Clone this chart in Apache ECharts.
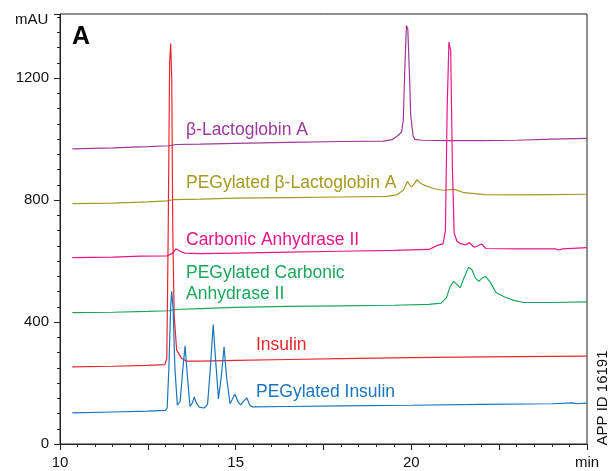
<!DOCTYPE html>
<html>
<head>
<meta charset="utf-8">
<script src="https://cdn.jsdelivr.net/npm/echarts@6/dist/echarts.min.js"></script>
<style>
  html, body { margin: 0; padding: 0; background: #fff; }
  #chart { width: 612px; height: 471px; }
</style>
</head>
<body>
<div id="chart"></div>
<script>
  // retention time (min), absorbance (mAU)
  const lactoglobin = [
    [10.35, 968], [11.5, 971], [12.5, 975], [13.1, 978], [13.3, 982], [14.0, 983],
    [15.0, 986], [16.5, 989], [18.0, 992], [19.2, 993], [19.45, 998], [19.6, 1010],
    [19.72, 1022], [19.77, 1060], [19.82, 1250], [19.86, 1372], [19.9, 1360],
    [19.95, 1200], [19.98, 1080], [20.05, 1010], [20.1, 999], [20.3, 996],
    [21.0, 995], [22.0, 995], [23.0, 996], [24.0, 1000], [25.0, 1002]
  ];
  const pegLactoglobin = [
    [10.35, 788], [11.5, 790], [12.5, 794], [13.05, 797], [13.2, 801], [14.0, 803],
    [15.0, 806], [16.5, 808], [18.0, 810], [19.3, 812], [19.6, 818], [19.77, 832],
    [19.89, 861], [19.95, 850], [20.0, 843], [20.08, 852], [20.16, 867], [20.25, 856],
    [20.38, 848], [20.66, 837], [20.9, 832], [21.23, 835], [21.5, 824], [22.1, 818],
    [23.0, 817], [24.0, 818], [25.0, 819]
  ];
  const carbonic = [
    [10.35, 611], [11.5, 613], [12.3, 616], [13.05, 617], [13.2, 625], [13.3, 640],
    [13.35, 643], [13.42, 632], [13.55, 626], [14.0, 624], [15.0, 626], [16.5, 629],
    [18.0, 632], [19.5, 635], [20.5, 638], [20.76, 652], [20.9, 656], [20.97, 700],
    [21.02, 1100], [21.07, 1318], [21.12, 1290], [21.17, 900], [21.22, 690],
    [21.3, 665], [21.4, 657], [21.55, 653], [21.65, 660], [21.79, 645], [21.9, 650],
    [22.0, 656], [22.12, 641], [23.0, 640], [24.1, 640], [24.2, 636], [24.3, 640],
    [25.0, 644]
  ];
  const pegCarbonic = [
    [10.35, 431], [11.5, 432], [12.5, 435], [13.1, 437], [13.25, 441], [14.0, 444],
    [15.0, 448], [16.5, 451], [18.0, 453], [19.5, 455], [20.5, 458], [20.85, 462],
    [21.0, 480], [21.1, 515], [21.2, 533], [21.28, 525], [21.39, 512], [21.5, 545],
    [21.63, 580], [21.72, 572], [21.82, 545], [21.92, 533], [22.02, 545],
    [22.12, 549], [22.25, 530], [22.41, 497], [22.64, 483], [22.93, 470],
    [23.21, 464], [24.0, 464], [25.0, 466]
  ];
  const insulin = [
    [10.35, 253], [11.5, 255], [12.5, 258], [12.98, 260], [13.04, 280], [13.08, 700],
    [13.12, 1250], [13.15, 1313], [13.18, 1200], [13.21, 700], [13.25, 420],
    [13.32, 308], [13.46, 281], [13.59, 272], [14.0, 272], [15.0, 274], [16.5, 277],
    [18.0, 280], [20.0, 283], [22.0, 286], [25.0, 288]
  ];
  const pegInsulin = [
    [10.35, 102], [11.5, 105], [12.5, 108], [13.0, 110], [13.05, 118], [13.1, 250],
    [13.15, 450], [13.18, 501], [13.22, 440], [13.27, 250], [13.34, 127], [13.42, 140],
    [13.5, 250], [13.56, 322], [13.62, 230], [13.7, 123], [13.77, 135], [13.82, 154],
    [13.88, 135], [13.96, 121], [14.1, 118], [14.2, 130], [14.28, 250], [14.36, 392],
    [14.42, 290], [14.51, 148], [14.59, 220], [14.67, 319], [14.74, 220], [14.84, 132],
    [14.92, 150], [14.98, 164], [15.06, 140], [15.14, 128], [15.24, 142], [15.32, 151],
    [15.4, 128], [15.46, 122], [16.5, 123], [18.0, 125], [20.0, 127], [22.0, 130],
    [24.0, 132], [24.6, 135], [24.7, 132], [25.0, 134]
  ];
  const yTickLabels = [0, 400, 800, 1200];
  const xTickLabels = { 10: '10', 15: '15', 20: '20', 25: 'min' };

  const font = '"Liberation Sans", Arial, Helvetica, sans-serif';
  const chart = echarts.init(document.getElementById('chart'));

  function trace(data, color) {
    return {
      type: 'line', data: data, showSymbol: false, smooth: false,
      xAxisIndex: 0, yAxisIndex: 0,
      lineStyle: { color: color, width: 1.2 }
    };
  }
  function label(text, x, y, color) {
    return {
      type: 'text', x: x, y: y, silent: true,
      style: { text: text, fill: color, fontSize: 17.5, fontFamily: font, verticalAlign: 'middle' }
    };
  }
  // extra axes that only draw tick marks
  function tickAxis(min, max, interval, len, pos) {
    return {
      type: 'value', min: min, max: max, interval: interval, position: pos,
      axisLine: { show: false },
      axisTick: { show: true, length: len, lineStyle: { color: '#222' } },
      splitLine: { show: false }, axisLabel: { show: false }
    };
  }

  chart.setOption({
    animation: false,
    grid: { left: 60, right: 25, top: 14, bottom: 27, show: true, borderColor: '#222', borderWidth: 1 },
    xAxis: [
      {
        type: 'value', min: 10, max: 25, interval: 5,
        axisLine: { lineStyle: { color: '#222', width: 1 } },
        axisTick: { length: 6, lineStyle: { color: '#222' } },
        splitLine: { show: false },
        axisLabel: { color: '#111', fontSize: 15, fontFamily: font, margin: 11,
          formatter: v => xTickLabels[v] || '' }
      },
      tickAxis(10, 25, 2.5, 6, 'bottom'),
      tickAxis(10, 25, 0.5, 3, 'bottom')
    ],
    yAxis: [
      {
        type: 'value', min: 0, max: 1410, interval: 400,
        axisLine: { show: true, lineStyle: { color: '#222', width: 1 } },
        axisTick: { show: true, length: 6, lineStyle: { color: '#222' } },
        splitLine: { show: false },
        axisLabel: { color: '#111', fontSize: 15, fontFamily: font, margin: 11,
          formatter: v => yTickLabels.indexOf(v) >= 0 ? String(v) : '' }
      },
      tickAxis(0, 1410, 50, 3, 'left')
    ],
    series: [
      trace(lactoglobin, '#9b3a98'),
      trace(pegLactoglobin, '#a39a1f'),
      trace(carbonic, '#e8168a'),
      trace(pegCarbonic, '#1aa65c'),
      trace(insulin, '#e8262e'),
      trace(pegInsulin, '#1b75bc')
    ],
    graphic: [
      { type: 'text', x: 15, y: 20, silent: true,
        style: { text: 'mAU', fill: '#111', fontSize: 15, fontFamily: font, verticalAlign: 'middle' } },
      { type: 'text', x: 72, y: 37, silent: true,
        style: { text: 'A', fill: '#000', fontSize: 25, fontWeight: 'bold', fontFamily: font, verticalAlign: 'middle' } },
      label('\u03b2-Lactoglobin A', 186, 130, '#9b3a98'),
      label('PEGylated \u03b2-Lactoglobin A', 186, 183, '#a39a1f'),
      label('Carbonic Anhydrase II', 186, 240.5, '#e8168a'),
      label('PEGylated Carbonic', 186, 273, '#1aa65c'),
      label('Anhydrase II', 186, 294, '#1aa65c'),
      label('Insulin', 256, 345, '#e8262e'),
      label('PEGylated Insulin', 256, 392, '#1b75bc'),
      { type: 'text', x: 603, y: 398, rotation: Math.PI / 2, silent: true,
        style: { text: 'APP ID 16191', fill: '#111', fontSize: 15, fontFamily: font,
          align: 'center', verticalAlign: 'middle' } }
    ]
  });
</script>
</body>
</html>
